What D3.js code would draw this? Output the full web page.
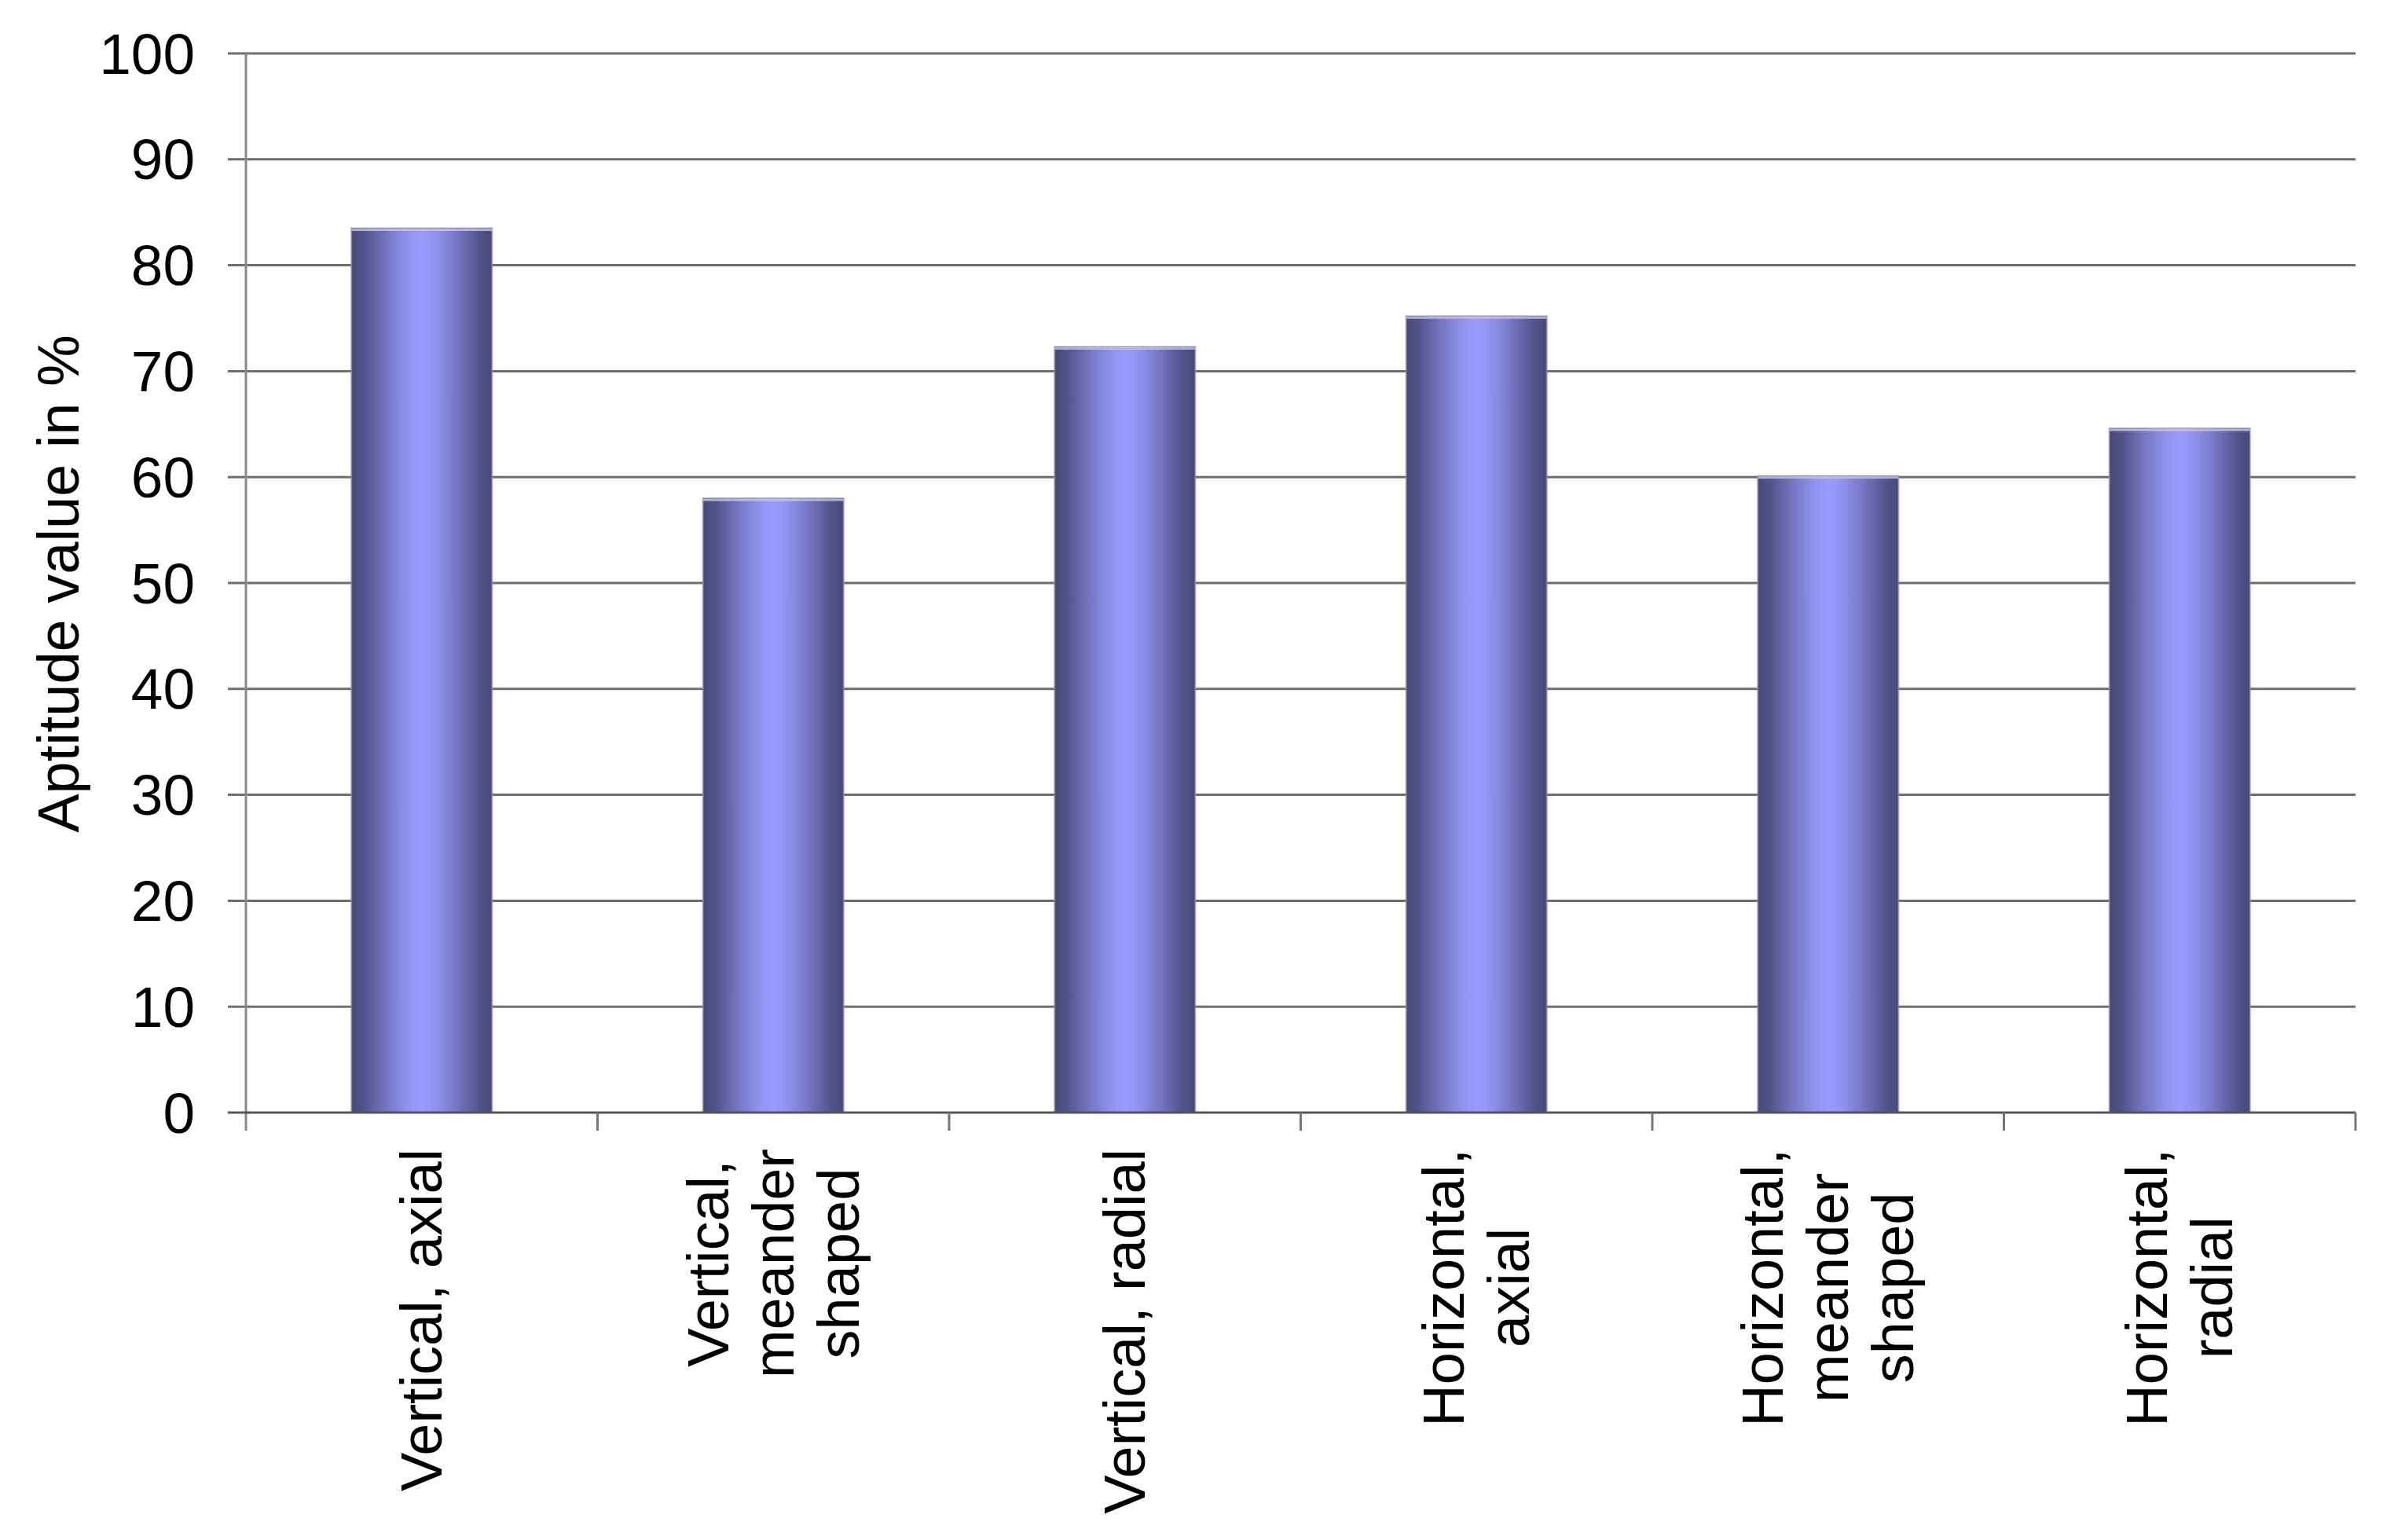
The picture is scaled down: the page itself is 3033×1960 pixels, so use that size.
<!DOCTYPE html>
<html>
<head>
<meta charset="utf-8">
<script src="https://cdn.jsdelivr.net/npm/d3@7"></script>
<style>
  html, body { margin: 0; padding: 0; background: #fff; }
  svg { display: block; }
  text { font-family: "Liberation Sans", Arial, sans-serif; fill: #000; }
</style>
</head>
<body>
<svg id="chart" width="3033" height="1960"></svg>
<script>
const categories = [
  ["Vertical, axial"],
  ["Vertical,", "meander", "shaped"],
  ["Vertical, radial"],
  ["Horizontal,", "axial"],
  ["Horizontal,", "meander", "shaped"],
  ["Horizontal,", "radial"]
];
const values = [83.5, 58.0, 72.3, 75.2, 60.1, 64.6];
const yTicks = [0, 10, 20, 30, 40, 50, 60, 70, 80, 90, 100];
const yTitle = "Aptitude value in %";

const W = 3033, H = 1960;
const m = { left: 313, right: 2998, top: 68, bottom: 1416 };
const svg = d3.select("#chart");
const keys = categories.map((c, i) => i);

const x = d3.scaleBand().domain(keys).range([m.left, m.right]).paddingInner(0.6).paddingOuter(0.3);
const y = d3.scaleLinear().domain([0, 100]).range([m.bottom, m.top]);

// gradient
const defs = svg.append("defs");
const grad = defs.append("linearGradient").attr("id", "barGrad").attr("x1", "0").attr("x2", "1").attr("y1", "0").attr("y2", "0");
[[0, "#474778"], [0.1, "#55558f"], [0.25, "#7676c2"], [0.4, "#9292ee"], [0.5, "#9a9aff"], [0.6, "#9292ee"], [0.75, "#7676c2"], [0.9, "#55558f"], [1, "#474778"]]
  .forEach(([o, c]) => grad.append("stop").attr("offset", o).attr("stop-color", c));

const tickLen = 23;

// gridlines
svg.append("g").selectAll("line").data(yTicks.filter(t => t > 0)).join("line")
  .attr("x1", m.left - tickLen).attr("x2", m.right)
  .attr("y1", d => y(d)).attr("y2", d => y(d))
  .attr("stroke", "#6e6e6e").attr("stroke-width", 3);

// y axis line
svg.append("line").attr("x1", m.left).attr("x2", m.left).attr("y1", m.top).attr("y2", m.bottom + tickLen)
  .attr("stroke", "#8a8a8a").attr("stroke-width", 3);

// y tick labels
svg.append("g").selectAll("text").data(yTicks).join("text")
  .attr("x", 248).attr("y", d => y(d))
  .attr("text-anchor", "end").attr("dominant-baseline", "central")
  .style("font-size", "73px")
  .text(d => d);

// bars
svg.append("g").selectAll("rect").data(values).join("rect")
  .attr("x", (d, i) => x(i)).attr("width", x.bandwidth())
  .attr("y", d => y(d)).attr("height", d => y(0) - y(d))
  .attr("fill", "url(#barGrad)")
  .attr("stroke", "#8c8cb4").attr("stroke-width", 2).attr("stroke-opacity", 0.7);

// bar top highlight
svg.append("g").selectAll("line").data(values).join("line")
  .attr("x1", (d, i) => x(i)).attr("x2", (d, i) => x(i) + x.bandwidth())
  .attr("y1", d => y(d) + 2).attr("y2", d => y(d) + 2)
  .attr("stroke", "#c4c4f2").attr("stroke-width", 3).attr("stroke-opacity", 0.8);

// x axis line
svg.append("line").attr("x1", m.left - tickLen).attr("x2", m.right).attr("y1", m.bottom).attr("y2", m.bottom)
  .attr("stroke", "#555").attr("stroke-width", 3);

// x ticks at band boundaries
const bounds = d3.range(categories.length + 1).map(i => m.left + i * x.step());
svg.append("g").selectAll("line").data(bounds.slice(1)).join("line")
  .attr("x1", d => d).attr("x2", d => d).attr("y1", m.bottom).attr("y2", m.bottom + tickLen)
  .attr("stroke", "#777").attr("stroke-width", 3);

// category labels (rotated, lines centered, block anchored at top)
const labelTop = 1462;
const lh = 83;
categories.forEach((lines, i) => {
  const cx = x(i) + x.bandwidth() / 2;
  const n = lines.length;
  const g = svg.append("g");
  const t = g.append("text").style("font-size", "74px").attr("text-anchor", "middle");
  lines.forEach((ln, j) => {
    t.append("tspan").attr("x", 0).attr("y", (j - (n - 1) / 2) * lh).attr("dominant-baseline", "central").text(ln);
  });
  let maxLen = 0;
  t.selectAll("tspan").each(function () { maxLen = Math.max(maxLen, this.getComputedTextLength()); });
  const cy = labelTop + maxLen / 2;
  g.attr("transform", `translate(${cx},${cy}) rotate(-90)`);
});

// y title
svg.append("text")
  .attr("transform", `translate(74,743) rotate(-90)`)
  .attr("text-anchor", "middle").attr("dominant-baseline", "central")
  .style("font-size", "74px")
  .text(yTitle);
</script>
</body>
</html>
